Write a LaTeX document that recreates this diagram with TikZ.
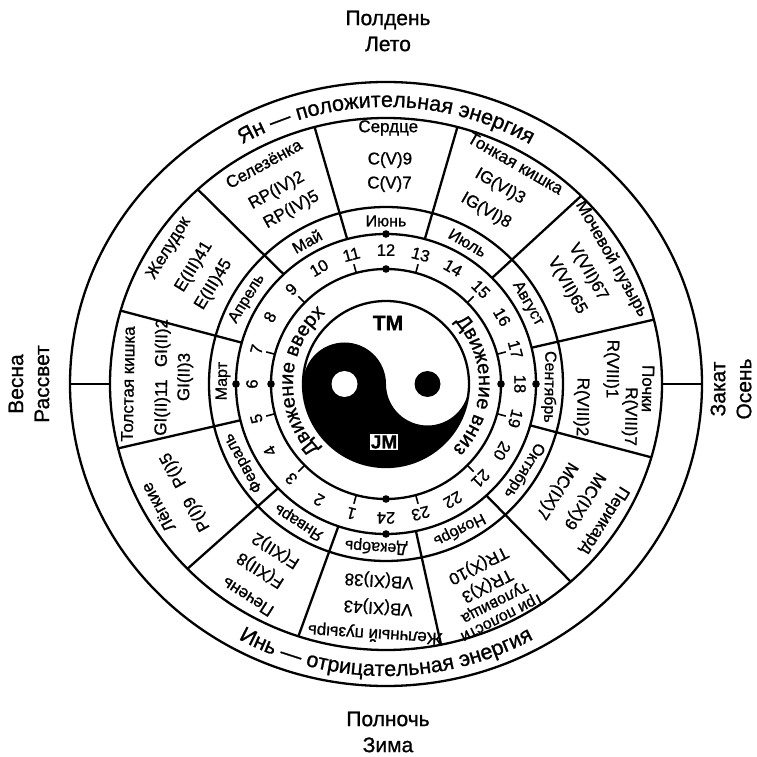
\documentclass[tikz,border=0pt]{standalone}
\usepackage{fontspec}
\setmainfont{Liberation Sans}[FakeBold=1]
\usepackage{tikz}
\usetikzlibrary{decorations.text}
\tikzstyle{ring} = [line width=2.3pt]
\tikzstyle{organ} = [font=\fontsize{17}{17}\selectfont, inner sep=0pt]
\tikzstyle{code} = [font=\fontsize{17}{18}\selectfont, inner sep=0pt]
\tikzstyle{month} = [font=\fontsize{16}{17}\selectfont, inner sep=0pt]
\tikzstyle{hour} = [font=\fontsize{16.5}{18}\selectfont, inner sep=0pt]
\tikzstyle{season} = [font=\fontsize{21}{26}\selectfont, align=center, inner sep=0pt]
\newcommand{\energyfont}{\fontsize{21.5}{21.5}\selectfont}
\newcommand{\movefont}{\fontsize{20}{20}\selectfont}

\begin{document}
\begin{tikzpicture}[x=1pt, y=1pt]
\useasboundingbox (-386,-373) rectangle (370,384);

% seasons and times of day
\node[season] (noon) at (2,353) {Полдень\\Лето};
\node[season] (midnight) at (2,-348) {Полночь\\Зима};
\node[season, rotate=90] (spring) at (-357,0) {Весна\\Рассвет};
\node[season, rotate=90] (autumn) at (345,-5) {Закат\\Осень};

% rings
\draw[ring] (0,0) ellipse[x radius=316, y radius=302];
\draw[ring] (0,0) ellipse[x radius=276, y radius=266];
\draw[ring] (0,0) circle (177);
\draw[ring] (0,0) circle (150);
\draw[ring] (0,0) circle (115);
\draw[ring] (276,0) -- (316,0);
\draw[ring] (-276,0) -- (-316,0);

% yang / yin energy
\path[decorate, decoration={text along path, text align=center,
  text={|\energyfont|Ян — положительная энергия}}]
  (150:287 and 277) arc[start angle=150, end angle=30, x radius=287, y radius=277];
\path[decorate, decoration={text along path, text align=center,
  text={|\energyfont|Инь — отрицательная энергия}}]
  (-150:303 and 292) arc[start angle=-150, end angle=-30, x radius=303, y radius=292];

% sector borders
\foreach \a in {14,45,75,105,133,164,194,224,251.5,281.5,312,344}
  \draw[ring] (\a:150) -- (\a:276 and 266);

% months
\foreach \a/\b/\m [count=\i] in {75/105/Июнь, 45/75/Июль, 14/45/Август,
    -16/14/Сентябрь, -48/-16/Октябрь, -78.5/-48/Ноябрь, -108.5/-78.5/Декабрь,
    -136/-108.5/Январь, -166/-136/Февраль, 164/194/Март, 133/164/Апрель, 105/133/Май} {
  \pgfmathsetmacro\c{(\a+\b)/2}
  \node[month, rotate=\c-90] (m\i) at (\c:163) {\m};
}

% hours
\foreach \h in {1,...,24}
  \node[hour, rotate=180-15*\h] (h\h) at (270-15*\h:134) {\h};
\foreach \h in {1,3,...,23}
  \draw[line width=1.6pt] (270-15*\h:115) -- (270-15*\h:124);
\foreach \a in {0,90,180,270} {
  \fill (\a:150) circle (3.8);
  \fill (\a:115) circle (3.8);
}

% organs
\node[organ, rotate=58.5] (stomach) at (148:256) {Желудок};
\node[code, rotate=58.5] (e41) at (148.6:225) {E(III)41};
\node[code, rotate=58.5] (e45) at (150:199) {E(III)45};

\node[organ, rotate=29] (spleen) at (119:252) {Селезёнка};
\node[code, rotate=29] (rp2) at (119.5:222) {RP(IV)2};
\node[code, rotate=29] (rp5) at (118.5:198) {RP(IV)5};

\node[organ] (heart) at (89.5:256) {Сердце};
\node[code] (c9) at (89:224) {C(V)9};
\node[code] (c7) at (89:200) {C(V)7};

\node[organ, rotate=-30] (smallint) at (59.6:256) {Тонкая кишка};
\node[code, rotate=-30] (ig3) at (60:228) {IG(VI)3};
\node[code, rotate=-30] (ig8) at (60:200) {IG(VI)8};

\node[organ, rotate=-60.5] (bladder) at (29:258) {Мочевой пузырь};
\node[code, rotate=-60.5] (v67) at (29:231) {V(VII)67};
\node[code, rotate=-60.5] (v65) at (28.5:206) {V(VII)65};

\node[organ, rotate=-91] (kidney) at (-1:262) {Почки};
\node[code, rotate=-91] (r7) at (-7.6:246) {R(VIII)7};
\node[code, rotate=-91] (r1) at (3.8:226) {R(VIII)1};
\node[code, rotate=-91] (r2) at (-6.7:197) {R(VIII)2};

\node[organ, rotate=-122] (pericard) at (-32:257) {Перикард};
\node[code, rotate=-122] (mc9) at (-30.5:230) {MC(IX)9};
\node[code, rotate=-122] (mc7) at (-32:201) {MC(IX)7};

\node[organ, rotate=-153, align=center, font=\fontsize{16}{16}\selectfont] (triple) at (-63.5:252) {Три полости\\туловища};
\node[code, rotate=-153] (tr3) at (-63.3:225) {TR(X)3};
\node[code, rotate=-153] (tr10) at (-63:203) {TR(X)10};

\node[organ, rotate=176.5] (gall) at (267.5:250) {Желчный пузырь};
\node[code, rotate=176.5] (vb43) at (268:223) {VB(XI)43};
\node[code, rotate=176.5] (vb38) at (268:196) {VB(XI)38};

\node[organ, rotate=147.5] (liver) at (237:254) {Печень};
\node[code, rotate=147.5] (f8) at (236:224) {F(XII)8};
\node[code, rotate=147.5] (f2) at (236.5:199) {F(XII)2};

\node[organ, rotate=119] (lung) at (208.4:259) {Лёгкие};
\node[code, rotate=119] (p5) at (202:229) {P(I)5};
\node[code, rotate=119] (p9) at (214.5:229) {P(I)9};

\node[organ, rotate=89] (colon) at (180:258) {Толстая кишка};
\node[code, rotate=89] (gi2) at (169.6:227) {GI(II)2};
\node[code, rotate=89] (gi11) at (186:225) {GI(II)11};
\node[code, rotate=89] (gi3) at (178:201) {GI(II)3};

% movement
\path[decorate, decoration={text along path, text align=center,
  text={|\movefont|Движение вверх}}]
  (235:93) arc[start angle=235, end angle=120, radius=93];
\path[decorate, decoration={text along path, text align=center,
  text={|\movefont|Движение вниз}}]
  (48:93) arc[start angle=48, end angle=-50, radius=93];

% yin-yang
\fill (180:83) arc[start angle=180, end angle=360, radius=83]
  arc[start angle=0, end angle=-180, radius=41.5]
  arc[start angle=0, end angle=180, radius=41.5] -- cycle;
\fill[white] (-41.5,0) circle (13);
\fill (41.5,0) circle (13);
\draw[ring] (0,0) circle (83);
\node[font=\bfseries\fontsize{21}{21}\selectfont] (tm) at (2,61) {TM};
\node[draw, fill=white, line width=0.8pt, inner sep=1.5pt,
  font=\bfseries\fontsize{19}{19}\selectfont] (jm) at (-2,-58) {JM};
\end{tikzpicture}
\end{document}
